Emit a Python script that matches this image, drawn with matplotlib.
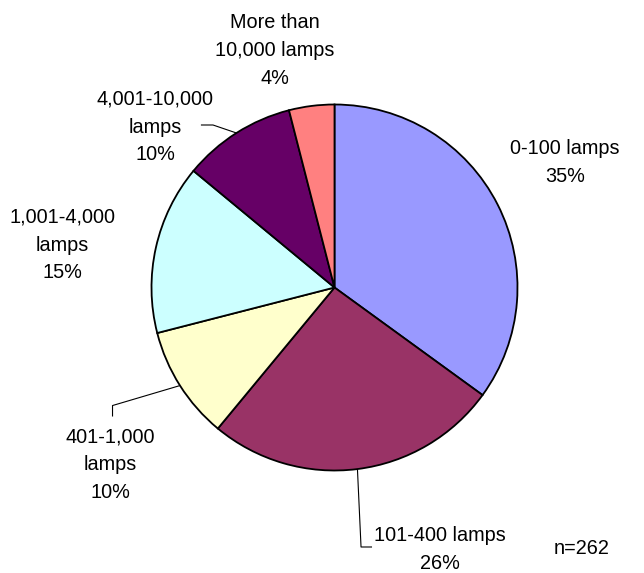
import matplotlib
matplotlib.use("Agg")
import matplotlib.pyplot as plt
import numpy as np

plt.rcParams['font.family'] = ['Liberation Sans', 'DejaVu Sans']

# Share of respondents by number of lamps (n=262)
categories = ["0-100 lamps", "101-400 lamps", "401-1,000\nlamps", "1,001-4,000\nlamps",
              "4,001-10,000\nlamps", "More than\n10,000 lamps"]
percentages = [35, 26, 10, 15, 10, 4]
colors = ["#9999FF", "#993366", "#FFFFCC", "#CCFFFF", "#660066", "#FF8080"]
sample_note = "n=262"

W, H, DPI = 644, 573, 100
fig = plt.figure(figsize=(W / DPI, H / DPI), dpi=DPI)
ax = fig.add_axes([0, 0, 1, 1])

# pie centre and radius in pixels, used to set a 1:1 data scale
cx, cy, r = 334.5, 287.5, 183.0

wedges, _ = ax.pie(percentages, colors=colors, startangle=90, counterclock=False,
                   radius=1.0, center=(0, 0), frame=True,
                   wedgeprops=dict(edgecolor="black", linewidth=1.3))
ax.set_xlim(-cx / r, (W - cx) / r)
ax.set_ylim(-(H - cy) / r, cy / r)
ax.axis("off")

# label block centres (data units)
label_pos = [(1.260, 0.683), (0.575, -1.430), (-1.227, -0.968),
             (-1.489, 0.232), (-0.981, 0.877), (-0.325, 1.295)]

FS = 14.3
for name, pct, (lx, ly) in zip(categories, percentages, label_pos):
    ax.text(lx, ly, f"{name}\n{pct}%", ha="center", va="center",
            fontsize=FS, linespacing=1.58, color="black")

# leader lines from wedge mid-angle on the rim to the label
def rim_point(i):
    w = wedges[i]
    mid = np.deg2rad((w.theta1 + w.theta2) / 2)
    return np.cos(mid), np.sin(mid)

leaders = {
    1: [(0.205, -1.418), (0.145, -1.418)],
    2: [(-1.213, -0.705), (-1.213, -0.645)],
    4: [(-0.730, 0.888), (-0.664, 0.888)],
}
for i, pts in leaders.items():
    ex, ey = rim_point(i)
    xs = [p[0] for p in pts] + [ex]
    ys = [p[1] for p in pts] + [ey]
    ax.plot(xs, ys, color="black", linewidth=0.8, solid_capstyle="butt")

ax.text((554 - cx) / r, (cy - 549) / r, sample_note, ha="left", va="center",
        fontsize=FS, color="black")

fig.savefig("out.png", dpi=DPI)
